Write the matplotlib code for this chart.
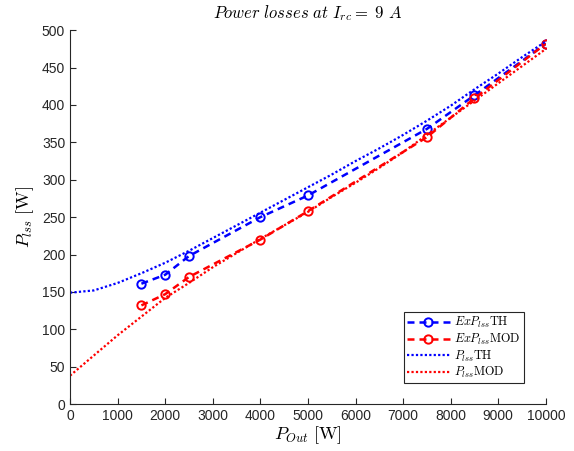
import matplotlib
matplotlib.use("Agg")
import matplotlib.pyplot as plt

# measured points (circles)
p_meas = [1500, 2000, 2500, 4000, 5000, 7500, 8500, 10000]
exp_th = [161, 173, 198, 250, 279, 368, 413, 482]
exp_mod = [132, 147, 170, 220, 258, 357, 409, 482]

p_curve = [0, 500, 1000, 1500, 2000, 2500, 3000, 3500, 4000, 4500, 5000,
           5500, 6000, 6500, 7000, 7500, 8000, 8500, 9000, 9500, 10000]
lss_th = [149, 152, 162, 175, 189, 205, 222, 239, 256, 273, 290,
          307, 325, 342, 360, 379, 399, 421, 442, 464, 485]
lss_mod = [38, 65, 92, 117, 142, 162, 183, 202, 221, 239, 257,
           277, 296, 316, 337, 360, 383, 406, 429, 452, 475]

plt.rcParams["mathtext.fontset"] = "cm"
plt.rcParams["font.family"] = ["Liberation Sans", "DejaVu Sans"]

AX_COL = "#262626"

fig = plt.figure(figsize=(5.74, 4.51), dpi=100)
ax = fig.add_axes([0.122, 0.104, 0.829, 0.829])

dash = (0, (2.8, 2.0))
ax.plot(p_meas, exp_th, color="blue", ls=dash, lw=1.8, marker="o", ms=6,
        mfc="none", mew=1.4, label=r"$ExP_{lss}\mathrm{TH}$")
ax.plot(p_meas, exp_mod, color="red", ls=dash, lw=1.8, marker="o", ms=6,
        mfc="none", mew=1.4, label=r"$ExP_{lss}\mathrm{MOD}$")
ax.plot(p_curve, lss_th, color="blue", ls=(0, (1, 1)), lw=1.6,
        label=r"$P_{lss}\mathrm{TH}$")
ax.plot(p_curve, lss_mod, color="red", ls=(0, (1, 1)), lw=1.6,
        label=r"$P_{lss}\mathrm{MOD}$")

ax.set_xlim(0, 10000)
ax.set_ylim(0, 500)
ax.set_xticks(range(0, 10001, 1000))
ax.set_yticks(range(0, 501, 50))

ax.spines[["top", "right"]].set_visible(False)
for s in ("left", "bottom"):
    ax.spines[s].set_color(AX_COL)
    ax.spines[s].set_linewidth(0.8)
ax.tick_params(direction="in", length=4, width=0.8, colors=AX_COL,
               labelsize=10, labelcolor=AX_COL)

ax.set_xlabel(r"$P_{Out}\ [\mathrm{W}]$", fontsize=13, labelpad=1)
ax.set_ylabel(r"$P_{lss}\ [\mathrm{W}]$", fontsize=13, labelpad=4)
ax.set_title(r"$Power\ losses\ at\ I_{rc} =\ 9\ A$", fontsize=12, pad=9)

leg = ax.legend(loc="lower right", bbox_to_anchor=(0.954, 0.056),
                fontsize=8.8, handlelength=3.5, labelspacing=0.12,
                borderpad=0.25, handletextpad=0.4, borderaxespad=0,
                fancybox=False, framealpha=1)
leg.get_frame().set_edgecolor(AX_COL)
leg.get_frame().set_linewidth(0.8)

fig.savefig("out.png", dpi=100)
